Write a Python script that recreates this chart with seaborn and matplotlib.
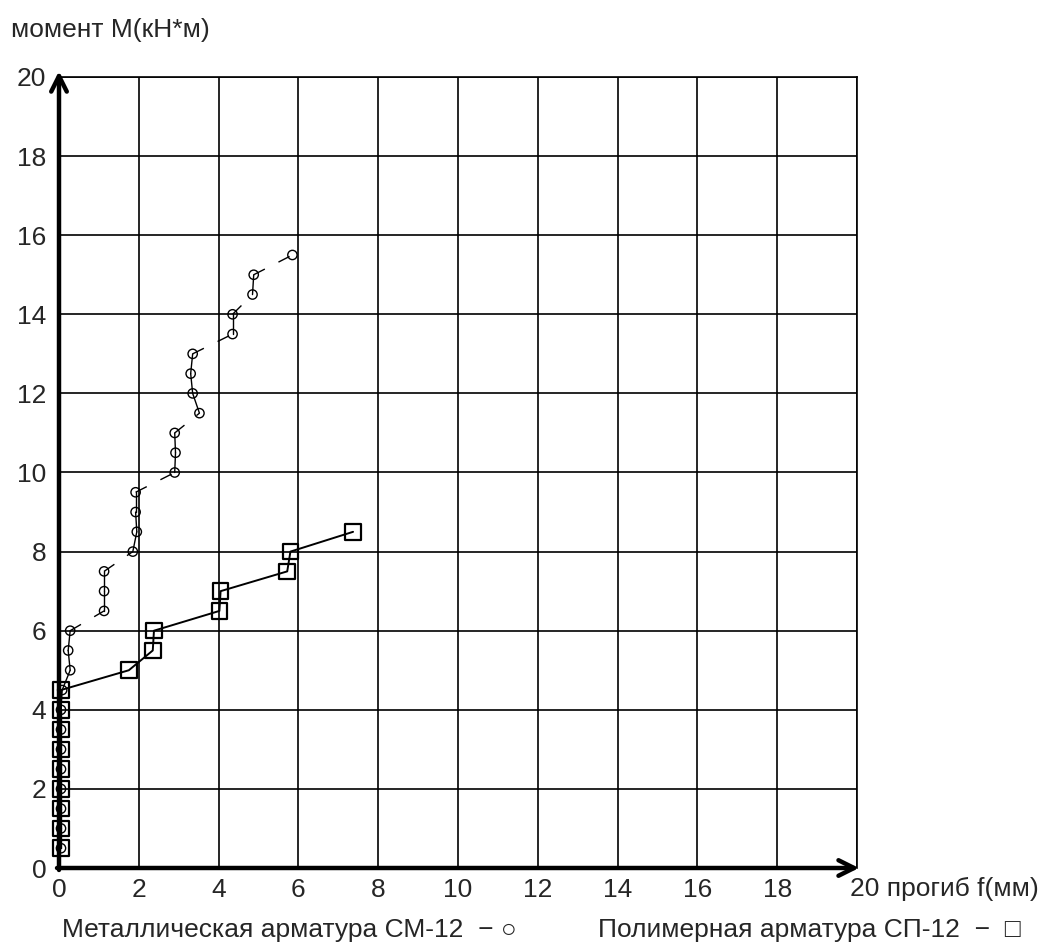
import numpy as np
import pandas as pd
import seaborn as sns
import matplotlib.pyplot as plt

# ---- data ----
moment_metal = [0.5, 1.0, 1.5, 2.0, 2.5, 3.0, 3.5, 4.0, 4.5, 5.0, 5.5, 6.0,
                6.5, 7.0, 7.5, 8.0, 8.5, 9.0, 9.5, 10.0, 10.5, 11.0, 11.5,
                12.0, 12.5, 13.0, 13.5, 14.0, 14.5, 15.0, 15.5]
deflection_metal = [0.05, 0.05, 0.05, 0.05, 0.05, 0.05, 0.05, 0.05, 0.08, 0.28,
                    0.23, 0.28, 1.13, 1.13, 1.13, 1.85, 1.95, 1.92, 1.92, 2.9,
                    2.92, 2.9, 3.52, 3.35, 3.3, 3.35, 4.35, 4.35, 4.85, 4.88, 5.85]

moment_poly = [0.5, 1.0, 1.5, 2.0, 2.5, 3.0, 3.5, 4.0, 4.5, 5.0, 5.5, 6.0,
               6.5, 7.0, 7.5, 8.0, 8.5]
deflection_poly = [0.05, 0.05, 0.05, 0.05, 0.05, 0.05, 0.05, 0.05, 0.05, 1.75,
                   2.35, 2.38, 4.02, 4.05, 5.72, 5.8, 7.37]

x_ticks = [0, 2, 4, 6, 8, 10, 12, 14, 16, 18, 20]
y_ticks = [0, 2, 4, 6, 8, 10, 12, 14, 16, 18, 20]
x_tick_labels = ["0", "2", "4", "6", "8", "10", "12", "14", "16", "18", ""]
y_tick_labels = ["0", "2", "4", "6", "8", "10", "12", "14", "16", "18", "20"]

y_title = "момент М(кН*м)"
x_title_last = "20 прогиб f(мм)"
label_metal = "Металлическая арматура СМ-12  − ○"
label_poly = "Полимерная арматура СП-12  −  □"

# ---- style ----
sns.set_style("white")
plt.rcParams['font.family'] = ['Liberation Sans', 'DejaVu Sans']
FS = 19

fig = plt.figure(figsize=(10.52, 9.49), dpi=100)
ax = fig.add_axes([59 / 1052, 1 - 868 / 949, (857 - 59) / 1052, (868 - 77) / 949])

# metal line: solid within load stages, dashed for jumps between stages
rows = []
for i in range(len(moment_metal) - 1):
    dx = deflection_metal[i + 1] - deflection_metal[i]
    kind = "jump" if abs(dx) > 0.3 else "stage"
    for j in (i, i + 1):
        rows.append({"seg": i, "f": deflection_metal[j], "M": moment_metal[j], "kind": kind})
segs = pd.DataFrame(rows)
sns.lineplot(data=segs, x="f", y="M", units="seg", style="kind", estimator=None,
             sort=False, dashes={"stage": "", "jump": (9, 11)}, color="black",
             lw=1.0, legend=False, ax=ax)

df_poly = pd.DataFrame({"f": deflection_poly, "M": moment_poly})
sns.lineplot(data=df_poly, x="f", y="M", sort=False, estimator=None, color="black",
             lw=1.4, ax=ax)

sns.scatterplot(data=df_poly, x="f", y="M", marker="s", s=125, facecolor="none",
                edgecolor="black", linewidth=1.6, ax=ax, clip_on=False, zorder=5)
df_metal = pd.DataFrame({"f": deflection_metal, "M": moment_metal})
sns.scatterplot(data=df_metal, x="f", y="M", marker="o", s=45, facecolor="none",
                edgecolor="black", linewidth=1.0, ax=ax, clip_on=False, zorder=6)

ax.set_xlim(0, 20)
ax.set_ylim(0, 20)
ax.set_xticks(x_ticks)
ax.set_yticks(y_ticks)
ax.set_xticklabels(x_tick_labels, fontsize=FS)
ax.set_yticklabels(y_tick_labels, fontsize=FS)
ax.tick_params(axis="both", length=0)
ax.tick_params(axis="y", pad=9)
ax.tick_params(axis="x", pad=7)
ax.set_xlabel("")
ax.set_ylabel("")
ax.grid(True, color="black", lw=1.2)
ax.set_axisbelow(True)
for side in ["top", "right"]:
    ax.spines[side].set_visible(True)
    ax.spines[side].set_color("black")
    ax.spines[side].set_linewidth(1.2)
for side in ["left", "bottom"]:
    ax.spines[side].set_visible(False)

# thick axes with arrows
ax.annotate("", xy=(0, 20.15), xytext=(0, -0.05), annotation_clip=False,
            arrowprops=dict(arrowstyle="->", lw=3.2, color="black",
                            mutation_scale=28, shrinkA=0, shrinkB=0))
ax.annotate("", xy=(20.05, 0), xytext=(-0.05, 0), annotation_clip=False,
            arrowprops=dict(arrowstyle="->", lw=3.2, color="black",
                            mutation_scale=28, shrinkA=0, shrinkB=0))

# axis titles
fig.text(11 / 1052, 1 - 30 / 949, y_title, fontsize=FS, va="center", ha="left")
ax.annotate(x_title_last, xy=(20, 0), xycoords="data", xytext=(-5, -15),
            textcoords="offset points", fontsize=FS, ha="left", va="center",
            annotation_clip=False)

# legend text
fig.text(62 / 1052, 1 - 930 / 949, label_metal, fontsize=FS, va="center", ha="left")
fig.text(598 / 1052, 1 - 930 / 949, label_poly, fontsize=FS, va="center", ha="left")

fig.savefig("out.png", dpi=100)
